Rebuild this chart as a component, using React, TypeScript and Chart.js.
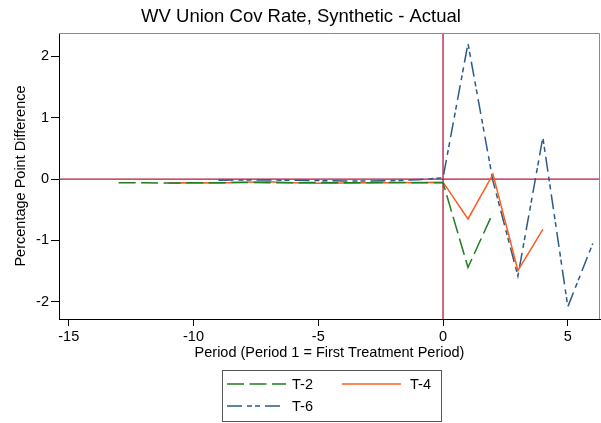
import React, { useEffect, useRef } from "react";
import { Chart, registerables } from "chart.js";

Chart.register(...registerables);

const periodsT2 = [-13, -12, -11, -10, -9, -8, -7, -6, -5, -4, -3, -2, -1, 0, 1, 2];
const valuesT2 = [-0.06, -0.06, -0.065, -0.06, -0.06, -0.055, -0.06, -0.06, -0.055, -0.06, -0.06, -0.055, -0.06, -0.06, -1.44, -0.55];

const periodsT4 = [-11, -10, -9, -8, -7, -6, -5, -4, -3, -2, -1, 0, 1, 2, 3, 4];
const valuesT4 = [-0.065, -0.06, -0.065, -0.05, -0.045, -0.06, -0.07, -0.065, -0.06, -0.06, -0.055, -0.05, -0.65, 0.08, -1.49, -0.82];

const periodsT6 = [-9, -8, -7, -6, -5, -4, -3, -2, -1, 0, 1, 2, 3, 4, 5, 6];
const valuesT6 = [-0.02, -0.015, -0.015, -0.02, -0.025, -0.03, -0.03, -0.025, -0.01, 0.02, 2.21, -0.03, -1.58, 0.68, -2.08, -1.05];

const xTicks = [-15, -10, -5, 0, 5];
const yTicks = [-2, -1, 0, 1, 2];
const seriesLabels = ["T-2", "T-4", "T-6"];
const titleText = "WV Union Cov Rate, Synthetic - Actual";
const xTitleText = "Period (Period 1 = First Treatment Period)";
const yTitleText = "Percentage Point Difference";

const FONT = "'Liberation Sans', Arial, Helvetica, sans-serif";
const GREEN = "#1e7d1e";
const ORANGE = "#ff5a1f";
const BLUE = "#2b5a87";
const REF = "#b8163f";
const DASH_T2 = [17, 5.5];
const DASH_T6 = [15, 5, 5, 3, 5, 5];

function toPoints(xs: number[], ys: number[]) {
  return xs.map((x, i) => ({ x, y: ys[i] }));
}

const decorPlugin = {
  id: "decor",
  beforeDatasetsDraw(chart: any) {
    const { ctx, chartArea, scales } = chart;
    const x0 = scales.x.getPixelForValue(0);
    const y0 = scales.y.getPixelForValue(0);
    ctx.save();
    ctx.strokeStyle = REF;
    ctx.lineWidth = 1.3;
    ctx.beginPath();
    ctx.moveTo(chartArea.left, y0);
    ctx.lineTo(chartArea.right, y0);
    ctx.moveTo(x0, chartArea.top);
    ctx.lineTo(x0, chartArea.bottom);
    ctx.stroke();
    ctx.strokeStyle = "#8a8a8a";
    ctx.lineWidth = 1;
    ctx.beginPath();
    ctx.moveTo(chartArea.left, chartArea.top + 0.5);
    ctx.lineTo(chartArea.right - 0.5, chartArea.top + 0.5);
    ctx.lineTo(chartArea.right - 0.5, chartArea.bottom);
    ctx.stroke();
    ctx.restore();
  },
  afterDraw(chart: any) {
    const { ctx, chartArea } = chart;
    ctx.save();
    ctx.fillStyle = "#000";
    ctx.textAlign = "center";
    ctx.textBaseline = "middle";
    ctx.font = `18.5px ${FONT}`;
    ctx.fillText(titleText, 301, 17);
    ctx.font = `14.5px ${FONT}`;
    ctx.fillText(xTitleText, (chartArea.left + chartArea.right) / 2, 353);
    ctx.save();
    ctx.translate(20.5, (chartArea.top + chartArea.bottom) / 2);
    ctx.rotate(-Math.PI / 2);
    ctx.fillText(yTitleText, 0, 0);
    ctx.restore();

    ctx.strokeStyle = "#555";
    ctx.lineWidth = 1;
    ctx.strokeRect(222.5, 370.5, 219, 51);
    const items = [
      { label: seriesLabels[0], color: GREEN, dash: DASH_T2, x1: 227, x2: 286, y: 384, tx: 292 },
      { label: seriesLabels[1], color: ORANGE, dash: [], x1: 342, x2: 401, y: 384, tx: 410 },
      { label: seriesLabels[2], color: BLUE, dash: DASH_T6, x1: 227, x2: 284, y: 406, tx: 292 },
    ];
    ctx.textAlign = "left";
    ctx.font = `14.5px ${FONT}`;
    for (const it of items) {
      ctx.strokeStyle = it.color;
      ctx.lineWidth = 1.5;
      ctx.setLineDash(it.dash);
      ctx.beginPath();
      ctx.moveTo(it.x1, it.y);
      ctx.lineTo(it.x2, it.y);
      ctx.stroke();
      ctx.setLineDash([]);
      ctx.fillStyle = "#000";
      ctx.fillText(it.label, it.tx, it.y + 1);
    }
    ctx.restore();
  },
};

export default function App() {
  const canvasRef = useRef<HTMLCanvasElement | null>(null);

  useEffect(() => {
    if (!canvasRef.current) return;
    Chart.defaults.font.family = FONT;
    const chart = new Chart(canvasRef.current, {
      type: "line",
      data: {
        datasets: [
          {
            label: seriesLabels[0],
            data: toPoints(periodsT2, valuesT2),
            borderColor: GREEN,
            borderWidth: 1.5,
            borderDash: DASH_T2,
            pointRadius: 0,
            fill: false,
            tension: 0,
          },
          {
            label: seriesLabels[1],
            data: toPoints(periodsT4, valuesT4),
            borderColor: ORANGE,
            borderWidth: 1.5,
            pointRadius: 0,
            fill: false,
            tension: 0,
          },
          {
            label: seriesLabels[2],
            data: toPoints(periodsT6, valuesT6),
            borderColor: BLUE,
            borderWidth: 1.5,
            borderDash: DASH_T6,
            pointRadius: 0,
            fill: false,
            tension: 0,
          },
        ],
      },
      options: {
        animation: false,
        responsive: false,
        devicePixelRatio: 1,
        layout: { padding: { top: 33, right: 1, left: 0, bottom: 0 } },
        plugins: {
          legend: { display: false },
          title: { display: false },
          tooltip: { enabled: false },
        },
        scales: {
          x: {
            type: "linear",
            min: -15.39,
            max: 6.29,
            afterBuildTicks: (scale: any) => {
              scale.ticks = xTicks.map((v) => ({ value: v }));
            },
            afterFit: (scale: any) => {
              scale.height = 104;
            },
            grid: { drawOnChartArea: false, drawTicks: true, tickLength: 7, color: "#000" },
            border: { display: true, color: "#000", width: 1 },
            ticks: { color: "#000", font: { size: 14.5, family: FONT }, padding: 2, maxRotation: 0 },
          },
          y: {
            type: "linear",
            min: -2.28,
            max: 2.38,
            afterBuildTicks: (scale: any) => {
              scale.ticks = yTicks.map((v) => ({ value: v }));
            },
            afterFit: (scale: any) => {
              scale.width = 59;
            },
            grid: { drawOnChartArea: false, drawTicks: true, tickLength: 8, color: "#000" },
            border: { display: true, color: "#000", width: 1 },
            ticks: { color: "#000", font: { size: 14.5, family: FONT }, padding: 2 },
          },
        },
      },
      plugins: [decorPlugin],
    } as any);
    return () => chart.destroy();
  }, []);

  return (
    <div style={{ position: "fixed", left: 0, top: 0, width: 601, height: 423, background: "#fff" }}>
      <canvas ref={canvasRef} width={601} height={423} style={{ display: "block" }} />
    </div>
  );
}
